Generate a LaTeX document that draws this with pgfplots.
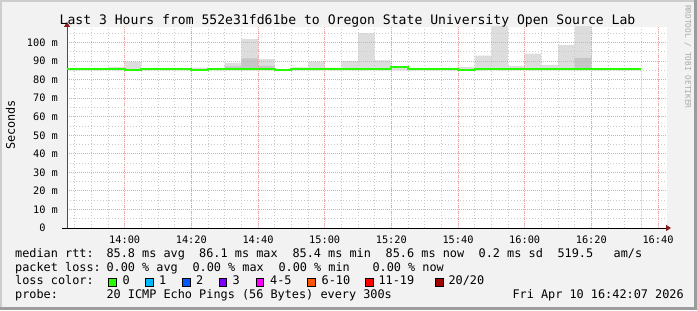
\documentclass[border=0pt]{standalone}
\usepackage{pgfplots}
\pgfplotsset{compat=1.18}
\usepackage{pgfplotstable}
\usetikzlibrary{arrows.meta}
\usepackage{fontspec}
\setmainfont{DejaVu Sans Mono}
\setmonofont{DejaVu Sans Mono}

\definecolor{bgc}{HTML}{F2F2F2}
\definecolor{frameL}{HTML}{CDCDCD}
\definecolor{frameD}{HTML}{9C9C9C}
\definecolor{smokeL}{HTML}{DDDDDD}
\definecolor{smokeD}{HTML}{C6C6C6}
\definecolor{mgrid}{HTML}{F2A0A0}
\definecolor{mingrid}{HTML}{CACACA}
\definecolor{arrowc}{HTML}{8B1A1A}
\definecolor{lossA}{HTML}{26FF00}
\definecolor{lossB}{HTML}{00B8FF}
\definecolor{lossC}{HTML}{0059FF}
\definecolor{lossD}{HTML}{7E00FF}
\definecolor{lossE}{HTML}{FF00FF}
\definecolor{lossF}{HTML}{FF5500}
\definecolor{lossG}{HTML}{FF0000}
\definecolor{lossH}{HTML}{A10000}
\definecolor{wm}{HTML}{AAAAAA}

% t = minutes since midnight (bin start), values in ms
\pgfplotstableread{
t lo hi dk med
820 85.0 86.3 85.0 85.9
825 85.0 86.3 85.0 85.9
830 85.0 86.3 85.0 85.9
835 85.0 86.8 85.0 85.9
840 84.8 89.7 84.8 85.3
845 85.0 86.3 85.0 85.9
850 85.0 86.3 85.0 85.9
855 85.0 86.3 85.0 85.9
860 84.8 86.5 84.8 85.3
865 85.0 86.4 85.0 85.9
870 85.0 89.1 87.2 85.9
875 85.0 101.9 91.5 85.9
880 85.0 91.1 87.5 85.9
885 84.8 85.6 84.8 85.3
890 85.0 86.6 85.0 85.9
895 85.0 89.7 85.0 85.9
900 85.0 86.5 85.0 85.9
905 85.0 90.0 85.0 85.9
910 85.0 105.1 85.0 85.9
915 85.0 90.4 85.0 85.9
920 85.0 86.8 85.0 86.6
925 85.0 86.3 85.0 85.9
930 85.0 86.4 85.0 85.9
935 85.0 86.4 85.0 85.9
940 84.8 86.8 84.8 85.3
945 85.0 92.9 85.0 85.9
950 85.0 112.0 85.0 85.9
955 85.0 87.3 85.0 85.9
960 85.0 94.0 85.0 85.9
965 85.0 87.9 85.0 85.9
970 85.0 98.6 85.0 85.9
975 85.0 112.0 91.8 85.9
980 85.0 86.3 85.0 85.9
985 85.0 86.3 85.0 85.9
990 85.0 86.3 85.0 85.9
995 85.0 86.3 85.0 85.9
}\smoke

\newcommand{\lgfont}{\fontsize{11.85bp}{14bp}\selectfont}
\newcommand{\tkfont}{\fontsize{10.3bp}{12bp}\selectfont}

\begin{document}
\begin{tikzpicture}[x=1bp,y=1bp]
% frame and background
\fill[frameD] (0,0) rectangle (697,310);
\fill[frameL] (0,3) rectangle (694,310);
\fill[bgc] (2,3) rectangle (694,308);

\begin{axis}[
  at={(67bp,82bp)}, anchor=south west,
  scale only axis, width=600bp, height=201bp,
  xmin=822.7, xmax=1002.7, ymin=0, ymax=108.4,
  axis background/.style={fill=white},
  axis on top,
  axis lines=left,
  x axis line style={black, line width=1bp, shorten <=-5bp, shorten >=-4bp,
    -{Triangle[length=5bp,width=6bp,color=arrowc]}},
  y axis line style={black!70, line width=1bp, shorten >=-5bp,
    -{Triangle[length=5bp,width=6bp,color=arrowc]}},
  xtick={840,860,...,1000},
  xticklabels={14:00,14:20,14:40,15:00,15:20,15:40,16:00,16:20,16:40},
  minor xtick={825,830,...,1000},
  ytick={0,10,...,100},
  yticklabels={0\phantom{\ m},10 m,20 m,30 m,40 m,50 m,60 m,70 m,80 m,90 m,100 m},
  minor ytick={5,15,...,105},
  tick style={draw=none},
  xmajorgrids, ymajorgrids, xminorgrids, yminorgrids,
  major grid style={color=mgrid, line width=1bp, dash pattern=on 1bp off 1bp},
  minor grid style={color=mingrid, line width=1bp, dash pattern=on 1bp off 2bp},
  xticklabel style={font=\tkfont, anchor=base, yshift=-13bp},
  yticklabel style={font=\tkfont, anchor=east, xshift=-3.5bp},
]
% smoke: light range, darker inner range, then white below the minimum
\addplot[const plot, fill=smokeL, draw=none] table[x=t,y=hi]{\smoke} \closedcycle;
\addplot[const plot, fill=smokeD, draw=none] table[x=t,y=dk]{\smoke} \closedcycle;
\addplot[const plot, fill=white, draw=none] table[x=t,y=lo]{\smoke} \closedcycle;
\end{axis}

\begin{axis}[
  at={(67bp,82bp)}, anchor=south west,
  scale only axis, width=600bp, height=201bp,
  xmin=822.7, xmax=1002.7, ymin=0, ymax=108.4,
  hide axis,
]
\addplot[const plot, color=lossA, line width=2bp] table[x=t,y=med]{\smoke};
\end{axis}

% title
\node[anchor=base, inner sep=0pt, font=\fontsize{13.1bp}{15bp}\selectfont] at (347.5,286)
  {Last 3 Hours from 552e31fd61be to Oregon State University Open Source Lab};
% y label
\node[rotate=90, anchor=center, inner sep=0pt, font=\lgfont] at (10.5,185) {Seconds};
% watermark
\node[rotate=-90, anchor=west, inner sep=0pt, text=wm, font=\fontsize{7.8bp}{9bp}\selectfont] at (688,305)
  {RRDTOOL / TOBI OETIKER};

% legend
\begin{scope}[every node/.style={anchor=base west, inner sep=0pt, font=\lgfont}]
\node at (15,52.7) {median rtt:};
\node at (106.3,52.7) {85.8 ms avg};
\node at (199,52.7) {86.1 ms max};
\node at (292.3,52.7) {85.4 ms min};
\node at (385.5,52.7) {85.6 ms now};
\node at (478.5,52.7) {0.2 ms sd};
\node at (557.3,52.7) {519.5};
\node at (613.5,52.7) {am/s};

\node at (15,39) {packet loss:};
\node at (106.3,39) {0.00 \% avg};
\node at (192.3,39) {0.00 \% max};
\node at (278.3,39) {0.00 \% min};
\node at (372.3,39) {0.00 \% now};

\node at (15,25.3) {loss color:};
\node at (122.3,25.3) {0};
\node at (159,25.3) {1};
\node at (196,25.3) {2};
\node at (232.5,25.3) {3};
\node at (270,25.3) {4-5};
\node at (321.5,25.3) {6-10};
\node at (378.3,25.3) {11-19};
\node at (448.3,25.3) {20/20};

\node at (15,11.3) {probe:};
\node at (106.3,11.3) {20 ICMP Echo Pings (56 Bytes) every 300s};
\node at (512.3,11.3) {Fri Apr 10 16:42:07 2026};
\end{scope}
\foreach \xx/\cc in {108.8/lossA,145.7/lossB,182.7/lossC,219.2/lossD,256.2/lossE,307.5/lossF,365.9/lossG,435.9/lossH}{
  \draw[black, line width=1bp, fill=\cc] (\xx,24) rectangle ++(7.5,7.5);
}
\pgfresetboundingbox
\path[use as bounding box] (0,0) rectangle (697,310);
\end{tikzpicture}
\end{document}
